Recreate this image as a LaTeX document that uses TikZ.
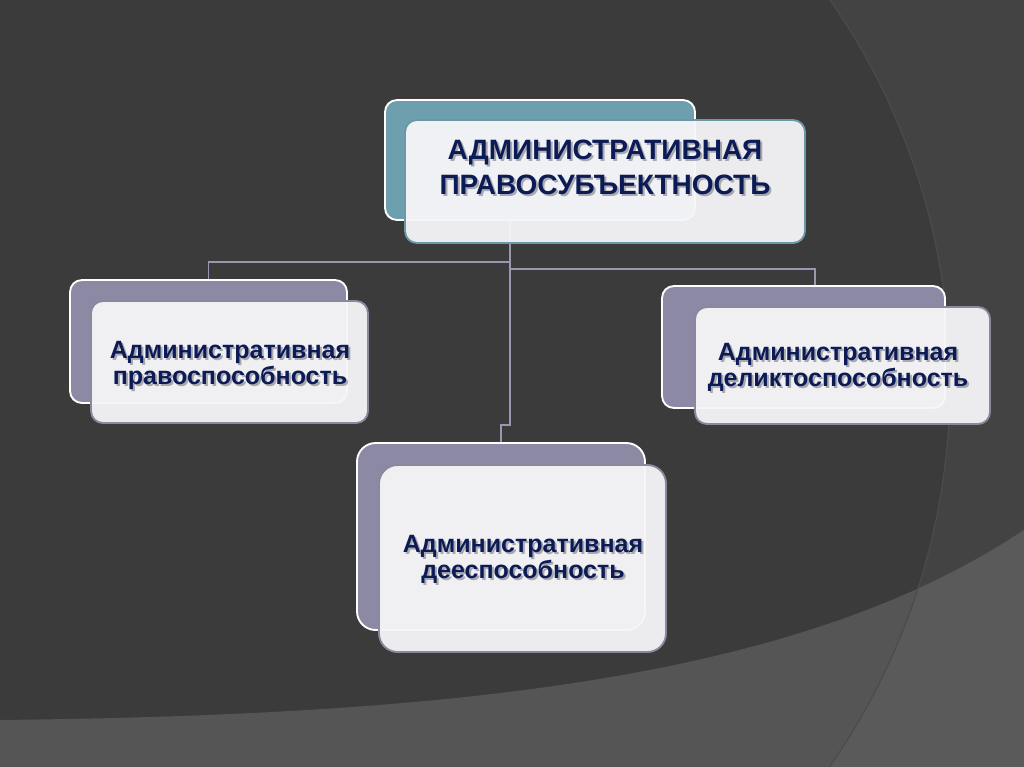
\documentclass[tikz,border=0pt]{standalone}
\usepackage{fontspec}
\setmainfont{Liberation Sans}
\definecolor{bgdark}{HTML}{3B3B3B}
\definecolor{bgright}{HTML}{434343}
\definecolor{bgband}{HTML}{555555}
\definecolor{bgbandright}{HTML}{5A5A5A}
\definecolor{arcline}{HTML}{4B4B4B}
\definecolor{tealback}{HTML}{6E9FAE}
\definecolor{tealedge}{HTML}{6A98A6}
\definecolor{lavback}{HTML}{8C89A4}
\definecolor{lavedge}{HTML}{8A889C}
\definecolor{frontfill}{HTML}{F6F6F8}
\definecolor{navytext}{HTML}{0C1A56}
\definecolor{shadowtext}{HTML}{6E6E78}
\definecolor{linkcol}{HTML}{9A98B0}
\begin{document}
\begin{tikzpicture}[x=0.75pt,y=-0.75pt,
  backbox/.style={rectangle, draw=white, line width=1.4pt, rounded corners=9pt, fill=#1, inner sep=0pt},
  frontbox/.style={rectangle, draw=#1, line width=1.4pt, rounded corners=9pt, fill=frontfill, fill opacity=0.95, draw opacity=1, inner sep=0pt},
  toptext/.style={font=\bfseries\fontsize{21}{26.25}\selectfont, align=center, text=navytext, inner sep=0pt},
  subtext/.style={font=\bfseries\fontsize{18.75}{19.5}\selectfont, align=center, text=navytext, inner sep=0pt},
  shadowed/.style={text=shadowtext, text opacity=0.55},
  link/.style={draw=linkcol, line width=1.3pt}]
% background
\useasboundingbox (0,0) rectangle (1024,767);
\fill[bgdark] (0,0) rectangle (1024,767);
\begin{scope}
  \clip (0,0) rectangle (1024,767);
  \fill[bgright, even odd rule] (-10,-10) rectangle (1040,780) (279,383) circle [radius=503.25pt];
  \fill[bgband] (0,720) .. controls (450,715) and (800,680) .. (1024,530) -- (1024,767) -- (0,767) -- cycle;
  \begin{scope}
    \clip (0,720) .. controls (450,715) and (800,680) .. (1024,530) -- (1024,767) -- (0,767) -- cycle;
    \fill[bgbandright, even odd rule] (-10,-10) rectangle (1040,780) (279,383) circle [radius=503.25pt];
  \end{scope}
  \draw[arcline, line width=0.9pt] (279,383) circle [radius=503.25pt];
\end{scope}

% back boxes
\node[backbox=tealback, minimum width=232.5pt, minimum height=90pt] (tback) at (540,160) {};
\node[backbox=lavback, minimum width=207.75pt, minimum height=92.25pt] (lback) at (208.5,341.5) {};
\node[backbox=lavback, minimum width=212.25pt, minimum height=91.5pt] (rback) at (803.5,347) {};
\node[backbox=lavback, minimum width=216pt, minimum height=140.25pt, rounded corners=14pt] (bback) at (501,536.5) {};

% connectors
\coordinate (jtop) at (510,243);
\coordinate (jleft) at (510,262);
\coordinate (jright) at (510,269);
\coordinate (jbend) at (510,425);
\coordinate (rdrop) at (815,269);
\draw[link] (jtop |- tback.south) -- (jbend) -| (bback.north);
\draw[link] (jleft) -| (lback.north);
\draw[link] (jright) -- (rdrop) -- (rdrop |- rback.north);

% front boxes
\node[frontbox=tealedge, minimum width=300pt, minimum height=92.25pt] (tfront) at (605,181.5) {};
\node[frontbox=lavedge, minimum width=207.75pt, minimum height=91.5pt] (lfront) at (229.5,362) {};
\node[frontbox=lavedge, minimum width=221.25pt, minimum height=87.75pt] (rfront) at (842.5,365.5) {};
\node[frontbox=lavedge, minimum width=215.25pt, minimum height=140.25pt, rounded corners=14pt] (bfront) at (522.5,558.5) {};

% texts
\node[toptext, shadowed] (tshadow) at (607,169) {АДМИНИСТРАТИВНАЯ\\ПРАВОСУБЪЕКТНОСТЬ};
\node[toptext] (ttext) at (605,167) {АДМИНИСТРАТИВНАЯ\\ПРАВОСУБЪЕКТНОСТЬ};
\node[subtext, shadowed] (lshadow) at (232,367) {Административная\\правоспособность};
\node[subtext] (ltext) at (230,365) {Административная\\правоспособность};
\node[subtext, shadowed] (rshadow) at (840,369) {Административная\\деликтоспособность};
\node[subtext] (rtext) at (838,367) {Административная\\деликтоспособность};
\node[subtext, shadowed] (bshadow) at (525,561) {Административная\\дееспособность};
\node[subtext] (btext) at (523,559) {Административная\\дееспособность};
\end{tikzpicture}
\end{document}
